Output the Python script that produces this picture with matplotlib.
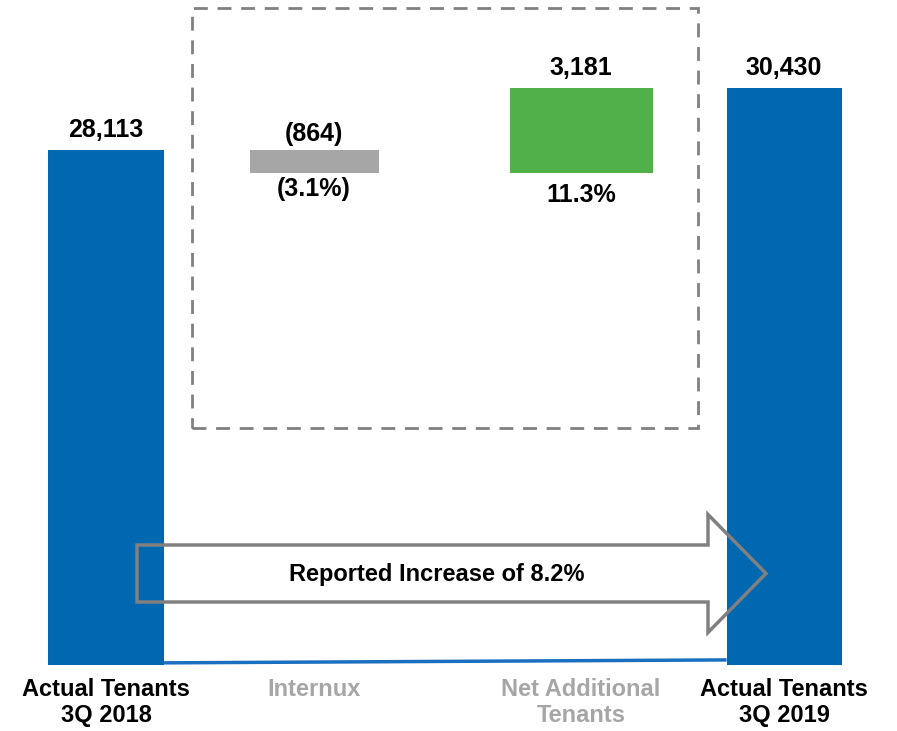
import matplotlib.pyplot as plt
from matplotlib.patches import FancyArrow, Rectangle

plt.rcParams['font.family'] = ['Liberation Sans', 'DejaVu Sans']
plt.rcParams['font.weight'] = 'bold'

# tenant bridge 3Q 2018 -> 3Q 2019
categories = ["Actual Tenants\n3Q 2018", "Internux", "Net Additional\nTenants", "Actual Tenants\n3Q 2019"]
tenants_2018 = 28113
internux = -864
net_additional = 3181
tenants_2019 = 30430
change_pct = ["(3.1%)", "11.3%"]
reported_increase = 8.2

BLUE = "#0067B1"
GREEN = "#52B04A"
GREY = "#A6A6A6"
OUTLINE = "#808080"

# layout
xpos = [0, 1, 2.284, 3.26]
widths = [0.558, 0.62, 0.688, 0.553]
FLOOR = 8868          # bars start here, axis is cut
YTOP = 33719

fig = plt.figure(figsize=(8.97, 7.31), dpi=100)
ax = fig.add_axes([0, 66 / 731, 1, 665 / 731])
ax.set_xlim(-0.51, 3.803)
ax.set_ylim(FLOOR, YTOP)

# totals
ax.bar(xpos[0], tenants_2018 - FLOOR, bottom=FLOOR, width=widths[0], color=BLUE)
ax.bar(xpos[3], tenants_2019 - FLOOR, bottom=FLOOR, width=widths[3], color=BLUE)

# steps
after_internux = tenants_2018 + internux
ax.bar(xpos[1], -internux, bottom=after_internux, width=widths[1], color=GREY)
ax.bar(xpos[2], net_additional, bottom=after_internux, width=widths[2], color=GREEN)

fs = 17
lab = dict(ha='center', textcoords='offset points', fontsize=18, fontweight='bold')
ax.annotate(f"{tenants_2018:,}", (xpos[0], tenants_2018), xytext=(0, 6), va='bottom', **lab)
ax.annotate(f"{tenants_2019:,}", (xpos[3], tenants_2019), xytext=(0, 6), va='bottom', **lab)
ax.annotate(f"({-internux:,})", (xpos[1], tenants_2018), xytext=(0, 3), va='bottom', **lab)
ax.annotate(change_pct[0], (xpos[1], after_internux), xytext=(0, -3), va='top', **lab)
ax.annotate(f"{net_additional:,}", (xpos[2], tenants_2019), xytext=(0, 6), va='bottom', **lab)
ax.annotate(change_pct[1], (xpos[2], after_internux), xytext=(0, -7), va='top', **lab)

# baseline joining the two totals
ax.plot([xpos[0] + widths[0] / 2, xpos[3] - widths[3] / 2], [FLOOR + 80, FLOOR + 190],
        color="#1A6FBF", lw=2.5, solid_capstyle='butt')

ax.set_xticks(xpos, categories)
ax.tick_params(axis='x', length=0, pad=9, labelsize=fs)
label_colors = ['black', GREY, GREY, 'black']
for t, c in zip(ax.get_xticklabels(), label_colors):
    t.set_color(c)
    t.set_fontweight('bold')
    t.set_linespacing(1.2)
ax.set_yticks([])
for s in ax.spines.values():
    s.set_visible(False)

# dashed frame around the one-off items
fig.patches.append(Rectangle((192 / 897, 1 - 428 / 731), 506 / 897, 420 / 731,
                             transform=fig.transFigure, fill=False, ec=OUTLINE,
                             lw=2, ls=(0, (5, 3.5))))

# outline arrow across the chart
fig.patches.append(FancyArrow(137 / 897, 1 - 573.5 / 731, 629 / 897, 0,
                              width=57 / 731, head_width=118 / 731, head_length=58 / 897,
                              length_includes_head=True, transform=fig.transFigure,
                              fill=False, ec=OUTLINE, lw=2.5))
fig.text(437 / 897, 1 - 574 / 731, f"Reported Increase of {reported_increase}%",
         ha='center', va='center', fontsize=fs, fontweight='bold')

fig.savefig("out.png", dpi=100)
